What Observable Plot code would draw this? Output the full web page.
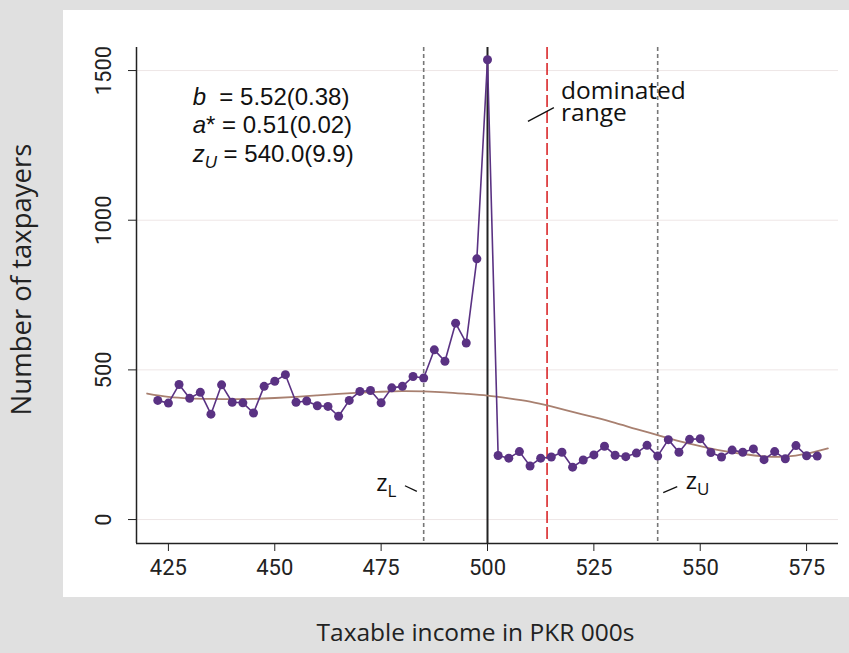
<!DOCTYPE html>
<html>
<head>
<meta charset="utf-8">
<script src="https://cdn.jsdelivr.net/npm/d3@7"></script>
<script src="https://cdn.jsdelivr.net/npm/@observablehq/plot@0.6"></script>
<style>
  html, body { margin: 0; padding: 0; background: #e0e0e0; width: 849px; height: 653px; overflow: hidden; }
  #panel { position: absolute; left: 63px; top: 10px; width: 786px; height: 587px; background: #ffffff; }
  #chart { position: absolute; left: 0; top: 0; }
</style>
</head>
<body>
<div id="panel"></div>
<div id="chart"></div>
<script>
// Taxable income bins (PKR 000s)
const income = [422.5,425,427.5,430,432.5,435,437.5,440,442.5,445,447.5,450,452.5,455,457.5,460,462.5,465,467.5,470,472.5,475,477.5,480,482.5,485,
  487.5,490,492.5,495,497.5,500,
  502.5,505,507.5,510,512.5,515,517.5,520,522.5,525,527.5,530,532.5,535,537.5,540,
  542.5,545,547.5,550,552.5,555,557.5,560,562.5,565,567.5,570,572.5,575,577.5];
// Number of taxpayers per bin
const taxpayers = [398,389,451,405,425,352,450,392,390,356,445,462,484,392,396,380,378,345,398,428,431,390,440,445,478,473,
  567,529,656,590,871,1536,
  214,205,227,179,205,209,225,175,199,216,245,215,210,222,248,212,
  267,225,268,270,224,209,232,225,236,200,227,203,247,213,212];
// Counterfactual (fitted) density
const fitIncome = [420,425,430,435,440,445,450,455,460,465,470,475,480,485,490,495,500,505,510,515,520,525,530,535,540,545,550,555,560,565,570,575,580];
const fitCount  = [421,410,405,403,402,403,406,410,415,420,424,427,429,428,425,420,414,405,394,378,360,342,323,302,282,262,245,230,219,211,210,220,238];
// Reference lines
const zL = 485, notch = 500, zDom = 514, zU = 540;
// Tick labels
const xTicks = [425,450,475,500,525,550,575];
const yTicks = [0,500,1000,1500];
const eqLines = [
  '<tspan font-style="italic">b</tspan>\u00a0\u00a0= 5.52(0.38)',
  '<tspan font-style="italic">a</tspan>* = 0.51(0.02)',
  '<tspan font-style="italic">z</tspan><tspan font-style="italic" font-size="17" dy="6">U</tspan><tspan dy="-6"> = 540.0(9.9)</tspan>'
];

const xDomain = [417.5, 582.5];
const yDomain = [-80, 1577];

const pts = income.map((x, i) => ({x, y: taxpayers[i]}));
const fit = fitIncome.map((x, i) => ({x, y: fitCount[i]}));

const sans = "'Open Sans', sans-serif";
const purple = "#5a3283";

const plot = Plot.plot({
  width: 849,
  height: 653,
  marginLeft: 136,
  marginRight: 11,
  marginTop: 47,
  marginBottom: 110,
  style: { background: "transparent", fontFamily: "Roboto, sans-serif", fontSize: "22px", color: "#222" },
  x: { domain: xDomain, ticks: xTicks },
  y: { domain: yDomain, ticks: yTicks },
  marks: [
    Plot.gridY(yTicks, { stroke: "#eee6e6", strokeOpacity: 1, strokeWidth: 1 }),
    Plot.axisX({ ticks: xTicks, tickSize: 8, tickPadding: 8, label: null, fontSize: 22, stroke: "#222" }),
    Plot.axisY({ ticks: yTicks, tickSize: 8, tickPadding: 18, tickRotate: -90, tickFormat: d3.format("d"), label: null, fontSize: 22, stroke: "#222" }),
    Plot.ruleX([xDomain[0]], { stroke: "#222", strokeWidth: 1.5 }),
    Plot.ruleY([yDomain[0]], { stroke: "#222", strokeWidth: 1.5 }),
    Plot.ruleX([zL, zU], { stroke: "#777", strokeWidth: 1.6, strokeDasharray: "4,3" }),
    Plot.ruleX([notch], { stroke: "#222", strokeWidth: 2 }),
    Plot.ruleX([zDom], { stroke: "#d7191c", strokeWidth: 1.5, strokeDasharray: "12,4" }),
    Plot.line(fit, { x: "x", y: "y", stroke: "#a88070", strokeWidth: 1.8, curve: "natural" }),
    Plot.line(pts, { x: "x", y: "y", stroke: purple, strokeWidth: 1.6 }),
    Plot.dot(pts, { x: "x", y: "y", r: 4.5, fill: purple, stroke: "none" }),
    // equation block
    Plot.text(eqLines, { x: 430.7, y: [1410, 1316, 1219], text: (d, i) => "eq" + i, textAnchor: "start", fontSize: 24, fill: "#111", fontFamily: "'Liberation Sans', Arial, sans-serif", className: "eqtext" }),
    // dominated range (one two-line label)
    Plot.text(["dominated\nrange"], { x: 517.3, y: 1393, textAnchor: "start", lineAnchor: "middle", lineHeight: 0.9, fontSize: 24.5, fill: "#111", fontFamily: sans }),
    Plot.link([{x1: 509.5, y1: 1330, x2: 515.6, y2: 1376}], { x1: "x1", y1: "y1", x2: "x2", y2: "y2", stroke: "#111", strokeWidth: 1.3 }),
    // zL / zU labels
    Plot.text(["zL"], { x: 478.6, y: 122, textAnchor: "end", fontSize: 24, fill: "#111", fontFamily: sans, className: "zl" }),
    Plot.link([{x1: 480.6, y1: 113, x2: 483.4, y2: 94}], { x1: "x1", y1: "y1", x2: "x2", y2: "y2", stroke: "#111", strokeWidth: 1.3 }),
    Plot.text(["zU"], { x: 546.6, y: 128, textAnchor: "start", fontSize: 24, fill: "#111", fontFamily: sans, className: "zu" }),
    Plot.link([{x1: 541.3, y1: 90, x2: 544.6, y2: 110}], { x1: "x1", y1: "y1", x2: "x2", y2: "y2", stroke: "#111", strokeWidth: 1.3 }),
    // axis titles
    Plot.text(["Number of taxpayers"], { frameAnchor: "left", dx: -114, dy: -16, rotate: -90, textAnchor: "middle", fontSize: 27.5, fill: "#222", fontFamily: sans }),
    Plot.text(["Taxable income in PKR 000s"], { frameAnchor: "bottom", dx: -12, dy: 97, textAnchor: "middle", fontSize: 24.5, fill: "#222", fontFamily: sans })
  ]
});

document.getElementById("chart").appendChild(plot);

// rich text for the equation block and subscripts
const svg = d3.select(plot);
svg.selectAll("g.eqtext text").each(function(d, i) { d3.select(this).html(eqLines[i]); });
svg.selectAll("g.zl text").html('z<tspan font-size="17" dy="6">L</tspan>');
svg.selectAll("g.zu text").html('z<tspan font-size="17" dy="6">U</tspan>');
</script>
</body>
</html>
